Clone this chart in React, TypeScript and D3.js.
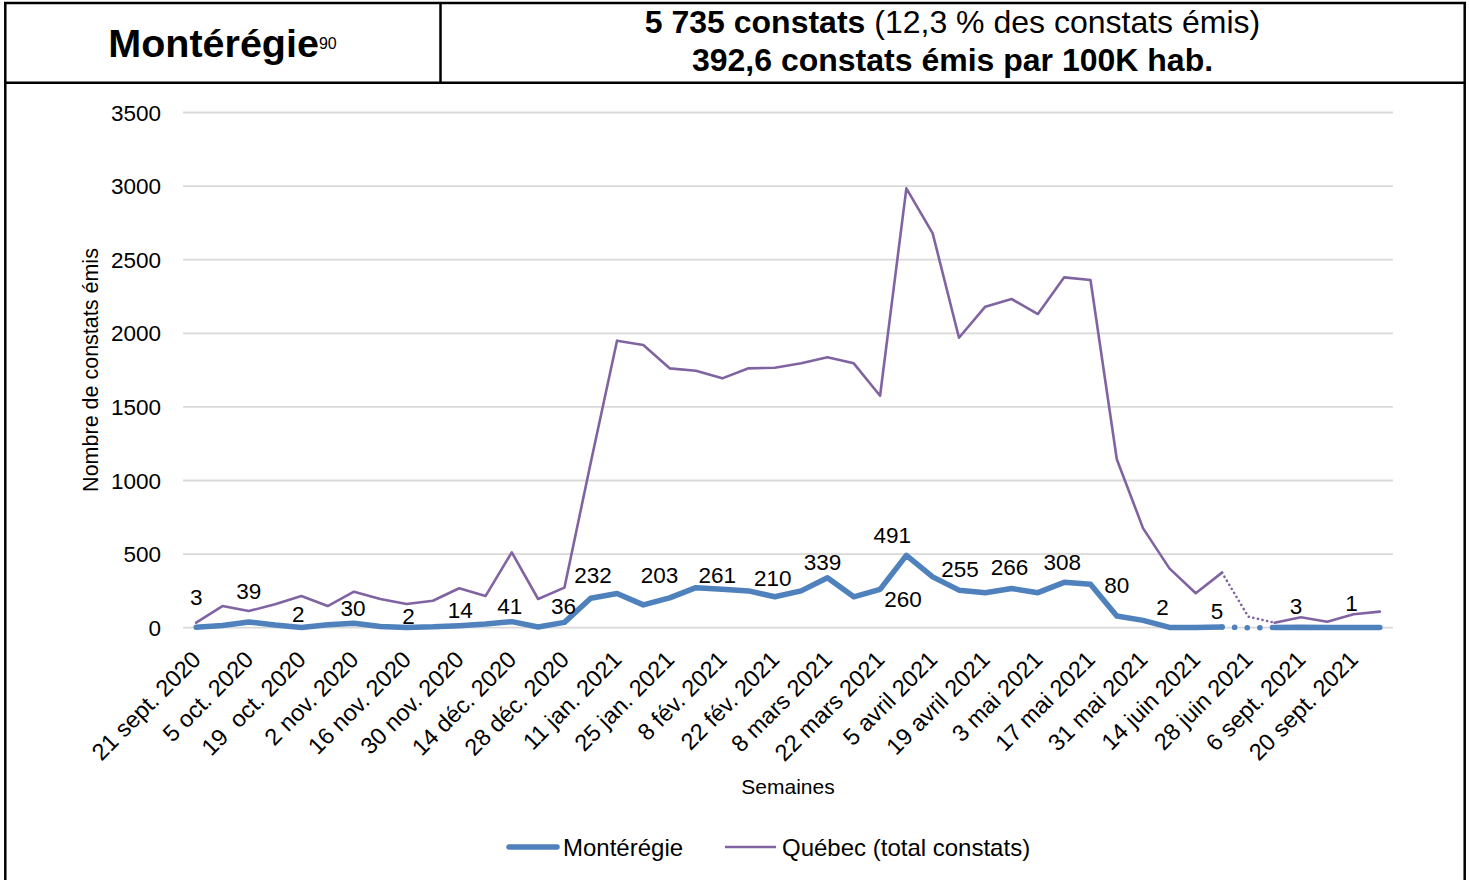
import { useRef, useEffect } from "react";
import * as d3 from "d3";

// Semaines (une catégorie par semaine, une étiquette sur deux est affichée)
const weeks = [
  "21 sept. 2020", "28 sept. 2020", "5 oct. 2020", "12 oct. 2020",
  "19\u00a0 oct. 2020", "26 oct. 2020", "2 nov. 2020", "9 nov. 2020",
  "16 nov. 2020", "23 nov. 2020", "30 nov. 2020", "7 déc. 2020",
  "14 déc. 2020", "21 déc. 2020", "28 déc. 2020", "4 jan. 2021",
  "11 jan. 2021", "18 jan. 2021", "25 jan. 2021", "1 fév. 2021",
  "8 fév. 2021", "15 fév. 2021", "22 fév. 2021", "1 mars 2021",
  "8 mars 2021", "15 mars 2021", "22 mars 2021", "29 mars 2021",
  "5 avril 2021", "12 avril 2021", "19 avril 2021", "26 avril 2021",
  "3 mai 2021", "10 mai 2021", "17 mai 2021", "24 mai 2021",
  "31 mai 2021", "7 juin 2021", "14 juin 2021", "21 juin 2021",
  "28 juin 2021", "30 août 2021", "6 sept. 2021", "13 sept. 2021",
  "20 sept. 2021", "27 sept. 2021",
];

const monteregie = [
  3, 15, 39, 18, 2, 20, 30, 8, 2, 6, 14, 25, 41, 5, 36, 200, 232, 155, 203,
  272, 261, 250, 210, 250, 339, 210, 260, 491, 345, 255, 238, 266, 238, 308,
  295, 80, 50, 2, 1, 5, 0, 1, 3, 1, 1, 1,
];

const quebec = [
  34, 147, 113, 159, 215, 147, 245, 195, 161, 183, 268, 215, 512, 195, 272,
  1120, 1950, 1920, 1762, 1746, 1694, 1762, 1766, 1796, 1837, 1796, 1576,
  2985, 2679, 1970, 2181, 2233, 2131, 2380, 2362, 1144, 675, 403, 234, 374,
  75, 34, 71, 41, 91, 109,
];

// semaines dont la valeur de la Montérégie est affichée
const labelledWeeks = [
  0, 2, 4, 6, 8, 10, 12, 14, 16, 18, 20, 22, 24, 26, 27, 29, 31, 33, 35, 37,
  39, 42, 44,
];

// semaine sans donnée : reliée en pointillé
const gapWeek = 40;

const yTicks = [0, 500, 1000, 1500, 2000, 2500, 3000, 3500];

const BLUE = "#4f81bd";
const PURPLE = "#8064a2";
const FONT = "'Liberation Sans', Arial, sans-serif";

// décalage manuel des étiquettes (centre du texte par rapport au point)
const labelOffset: Record<number, [number, number]> = {
  0: [0, -30], 2: [0, -31], 4: [-3, -14], 6: [-1, -15], 8: [2, -12],
  10: [1, -16], 12: [-2, -16], 14: [-1, -17], 16: [-24, -19],
  18: [-10, -23], 20: [-5, -14], 22: [-2, -19], 24: [-5, -16],
  26: [23, 9], 27: [-14, -21], 29: [1, -21], 31: [-2, -22], 33: [-2, -20],
  35: [0, -31], 37: [-7, -21], 39: [-5, -16], 42: [-5, -21], 44: [-2, -25],
};

export default function App() {
  const svgRef = useRef<SVGSVGElement>(null);

  useEffect(() => {
    const svg = d3.select(svgRef.current);
    svg.selectAll("*").remove();
    const width = 1469;
    const height = 880;
    svg.attr("width", width).attr("height", height);

    svg.append("rect").attr("width", width).attr("height", height).attr("fill", "white");

    // Cadre du tableau
    const border = svg.append("g").attr("stroke", "black").attr("stroke-width", 2.5);
    border.append("line").attr("x1", 4).attr("x2", 1466).attr("y1", 3).attr("y2", 3);
    border.append("line").attr("x1", 4).attr("x2", 1466).attr("y1", 82.7).attr("y2", 82.7);
    border.append("line").attr("x1", 5.3).attr("x2", 5.3).attr("y1", 2).attr("y2", height);
    border.append("line").attr("x1", 1464.7).attr("x2", 1464.7).attr("y1", 2).attr("y2", height);
    border.append("line").attr("x1", 440.5).attr("x2", 440.5).attr("y1", 2).attr("y2", 83);

    // En-tête
    const title = svg
      .append("text")
      .attr("x", 222.5)
      .attr("y", 57)
      .attr("text-anchor", "middle")
      .attr("font-family", FONT)
      .attr("font-weight", "bold")
      .attr("font-size", 39.5);
    title.append("tspan").text("Montérégie");
    title
      .append("tspan")
      .attr("font-size", 16)
      .attr("font-weight", "normal")
      .attr("dy", -8)
      .text("90");

    const line1 = svg
      .append("text")
      .attr("x", 952.5)
      .attr("y", 33)
      .attr("text-anchor", "middle")
      .attr("font-family", FONT)
      .attr("font-size", 32);
    line1.append("tspan").attr("font-weight", "bold").text("5 735 constats");
    line1.append("tspan").text("\u00a0(12,3 % des constats émis)");

    svg
      .append("text")
      .attr("x", 952.5)
      .attr("y", 71)
      .attr("text-anchor", "middle")
      .attr("font-family", FONT)
      .attr("font-size", 32)
      .attr("font-weight", "bold")
      .text("392,6 constats émis par 100K hab.");

    // Échelles
    const x = d3
      .scalePoint<number>()
      .domain(weeks.map((_, i) => i))
      .range([183, 1393])
      .padding(0.5);
    const y = d3.scaleLinear().domain([0, 3500]).range([627.7, 112.5]);

    // Quadrillage
    svg
      .append("g")
      .selectAll("line")
      .data(yTicks)
      .join("line")
      .attr("x1", 183)
      .attr("x2", 1393)
      .attr("y1", (d) => y(d))
      .attr("y2", (d) => y(d))
      .attr("stroke", "#d9d9d9")
      .attr("stroke-width", 1.8);

    svg
      .append("g")
      .selectAll("text")
      .data(yTicks)
      .join("text")
      .attr("x", 161)
      .attr("y", (d) => y(d))
      .attr("dy", "0.36em")
      .attr("text-anchor", "end")
      .attr("font-family", FONT)
      .attr("font-size", 22.5)
      .text((d) => d);

    // Étiquettes de l'axe des x
    svg
      .append("g")
      .selectAll("text")
      .data(weeks.map((w, i) => ({ w, i })).filter((d) => d.i % 2 === 0))
      .join("text")
      .attr("transform", (d) => `translate(${(x(d.i) ?? 0) + 6},${661}) rotate(-45)`)
      .attr("text-anchor", "end")
      .attr("font-family", FONT)
      .attr("font-size", 23.5)
      .style("white-space", "pre")
      .text((d) => d.w);

    svg
      .append("text")
      .attr("x", 788)
      .attr("y", 794)
      .attr("text-anchor", "middle")
      .attr("font-family", FONT)
      .attr("font-size", 21)
      .text("Semaines");

    svg
      .append("text")
      .attr("transform", "translate(90,370) rotate(-90)")
      .attr("dy", "0.35em")
      .attr("text-anchor", "middle")
      .attr("font-family", FONT)
      .attr("font-size", 21.5)
      .text("Nombre de constats émis");

    // Séries
    const series = [
      { values: quebec, color: PURPLE, width: 2.6, dots: "0.1 4.6" },
      { values: monteregie, color: BLUE, width: 5.5, dots: "0.1 12.5" },
    ];

    series.forEach((s) => {
      const pts = s.values.map((v, i) => ({ i, v }));
      const line = d3
        .line<{ i: number; v: number }>()
        .defined((d) => d.i !== gapWeek)
        .x((d) => x(d.i) ?? 0)
        .y((d) => y(d.v));

      svg
        .append("path")
        .datum(pts)
        .attr("d", line)
        .attr("fill", "none")
        .attr("stroke", s.color)
        .attr("stroke-width", s.width)
        .attr("stroke-linejoin", "round")
        .attr("stroke-linecap", "round");

      const dotted = d3
        .line<{ i: number; v: number }>()
        .x((d) => x(d.i) ?? 0)
        .y((d) => y(d.v));

      svg
        .append("path")
        .datum(pts.slice(gapWeek - 1, gapWeek + 2))
        .attr("d", dotted)
        .attr("fill", "none")
        .attr("stroke", s.color)
        .attr("stroke-width", s.width)
        .attr("stroke-linecap", "round")
        .attr("stroke-dasharray", s.dots);
    });

    // Étiquettes de données
    svg
      .append("g")
      .selectAll("text")
      .data(labelledWeeks)
      .join("text")
      .attr("x", (i) => (x(i) ?? 0) + (labelOffset[i]?.[0] ?? 0))
      .attr("y", (i) => y(monteregie[i]) + (labelOffset[i]?.[1] ?? -20))
      .attr("dy", "0.36em")
      .attr("text-anchor", "middle")
      .attr("font-family", FONT)
      .attr("font-size", 22.5)
      .text((i) => monteregie[i]);

    // Légende
    const legend = svg.append("g").attr("font-family", FONT).attr("font-size", 24);
    legend
      .append("line")
      .attr("x1", 509)
      .attr("x2", 557)
      .attr("y1", 847)
      .attr("y2", 847)
      .attr("stroke", BLUE)
      .attr("stroke-width", 5.5)
      .attr("stroke-linecap", "round");
    legend.append("text").attr("x", 563).attr("y", 856).text("Montérégie");
    legend
      .append("line")
      .attr("x1", 725)
      .attr("x2", 776)
      .attr("y1", 847)
      .attr("y2", 847)
      .attr("stroke", PURPLE)
      .attr("stroke-width", 2.6);
    legend.append("text").attr("x", 782).attr("y", 856).text("Québec (total constats)");
  }, []);

  return (
    <svg
      ref={svgRef}
      style={{ position: "absolute", left: 0, top: 0, display: "block" }}
    ></svg>
  );
}
